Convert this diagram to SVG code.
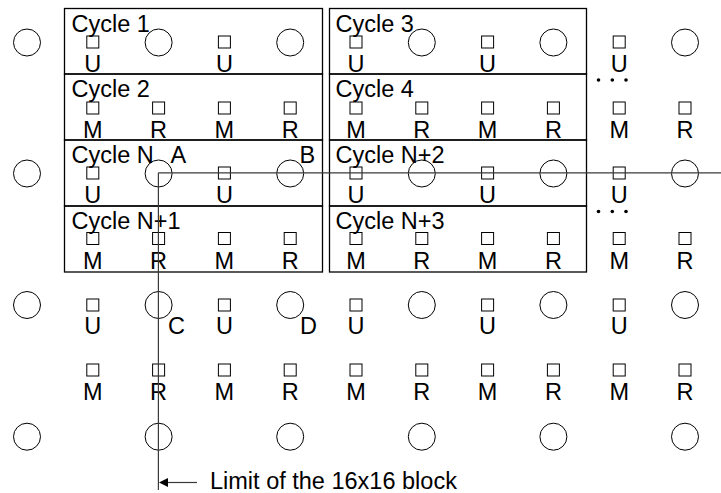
<svg xmlns="http://www.w3.org/2000/svg" width="721" height="493" viewBox="0 0 721 493">
<defs>
<style>
.bx{fill:none;stroke:#000;stroke-width:1.3}
.ci{fill:none;stroke:#000;stroke-width:1}
.sq{fill:none;stroke:#000;stroke-width:1}
.t{font-family:"Liberation Sans",Arial,sans-serif;font-size:23.5px;fill:#000}
.m{text-anchor:middle}
.ln{fill:none;stroke:#3a3a3a;stroke-width:1.2}
.dot{fill:#000}
</style>
<marker id="arr" markerWidth="10" markerHeight="10" refX="0" refY="5" orient="auto" markerUnits="userSpaceOnUse">
<path d="M0,5 L9,0.5 L9,9.5 Z" fill="#000"/>
</marker>
</defs>
<rect width="721" height="493" fill="#fff"/>

<!-- Cycle boxes -->
<g id="cycle1"><rect class="bx" x="64.5" y="8.5" width="258" height="65.5"/><text class="t" x="71.5" y="31.5">Cycle 1</text></g>
<g id="cycle2"><rect class="bx" x="64.5" y="74" width="258" height="66"/><text class="t" x="71.5" y="97">Cycle 2</text></g>
<g id="cycleN"><rect class="bx" x="64.5" y="140" width="258" height="66"/><text class="t" x="71.5" y="162.5">Cycle N</text></g>
<g id="cycleN1"><rect class="bx" x="64.5" y="206" width="258" height="66"/><text class="t" x="71.5" y="228.5">Cycle N+1</text></g>
<g id="cycle3"><rect class="bx" x="329.5" y="8.5" width="257" height="65.5"/><text class="t" x="335.5" y="31.5">Cycle 3</text></g>
<g id="cycle4"><rect class="bx" x="329.5" y="74" width="257" height="66"/><text class="t" x="335.5" y="97">Cycle 4</text></g>
<g id="cycleN2"><rect class="bx" x="329.5" y="140" width="257" height="66"/><text class="t" x="335.5" y="162.5">Cycle N+2</text></g>
<g id="cycleN3"><rect class="bx" x="329.5" y="206" width="257" height="66"/><text class="t" x="335.5" y="228.5">Cycle N+3</text></g>

<!-- Integer pixels (circles) -->
<g id="integer-pixels">
<circle class="ci" cx="27" cy="42.5" r="13.5"/><circle class="ci" cx="158.6" cy="42.5" r="13.5"/><circle class="ci" cx="290.2" cy="42.5" r="13.5"/><circle class="ci" cx="421.8" cy="42.5" r="13.5"/><circle class="ci" cx="553.4" cy="42.5" r="13.5"/><circle class="ci" cx="685" cy="42.5" r="13.5"/>
<circle class="ci" cx="27" cy="173.5" r="13.5"/><circle class="ci" cx="158.6" cy="173.5" r="13.5"/><circle class="ci" cx="290.2" cy="173.5" r="13.5"/><circle class="ci" cx="421.8" cy="173.5" r="13.5"/><circle class="ci" cx="553.4" cy="173.5" r="13.5"/><circle class="ci" cx="685" cy="173.5" r="13.5"/>
<circle class="ci" cx="27" cy="305" r="13.5"/><circle class="ci" cx="158.6" cy="305" r="13.5"/><circle class="ci" cx="290.2" cy="305" r="13.5"/><circle class="ci" cx="421.8" cy="305" r="13.5"/><circle class="ci" cx="553.4" cy="305" r="13.5"/><circle class="ci" cx="685" cy="305" r="13.5"/>
<circle class="ci" cx="27" cy="436.7" r="13.5"/><circle class="ci" cx="158.6" cy="436.7" r="13.5"/><circle class="ci" cx="290.2" cy="436.7" r="13.5"/><circle class="ci" cx="421.8" cy="436.7" r="13.5"/><circle class="ci" cx="553.4" cy="436.7" r="13.5"/><circle class="ci" cx="685" cy="436.7" r="13.5"/>
</g>

<!-- U half-pixels -->
<g id="u-pixels">
<rect class="sq" x="86.8" y="36" width="12" height="12"/><rect class="sq" x="218.4" y="36" width="12" height="12"/><rect class="sq" x="350" y="36" width="12" height="12"/><rect class="sq" x="481.6" y="36" width="12" height="12"/><rect class="sq" x="613.2" y="36" width="12" height="12"/>
<text class="t m" x="92.8" y="71.5">U</text><text class="t m" x="224.4" y="71.5">U</text><text class="t m" x="356" y="71.5">U</text><text class="t m" x="487.6" y="71.5">U</text><text class="t m" x="619.2" y="71.5">U</text>
<rect class="sq" x="86.8" y="167" width="12" height="12"/><rect class="sq" x="218.4" y="167" width="12" height="12"/><rect class="sq" x="350" y="167" width="12" height="12"/><rect class="sq" x="481.6" y="167" width="12" height="12"/><rect class="sq" x="613.2" y="167" width="12" height="12"/>
<text class="t m" x="92.8" y="202.5">U</text><text class="t m" x="224.4" y="202.5">U</text><text class="t m" x="356" y="202.5">U</text><text class="t m" x="487.6" y="202.5">U</text><text class="t m" x="619.2" y="202.5">U</text>
<rect class="sq" x="86.8" y="299" width="12" height="12"/><rect class="sq" x="218.4" y="299" width="12" height="12"/><rect class="sq" x="350" y="299" width="12" height="12"/><rect class="sq" x="481.6" y="299" width="12" height="12"/><rect class="sq" x="613.2" y="299" width="12" height="12"/>
<text class="t m" x="92.8" y="334">U</text><text class="t m" x="224.4" y="334">U</text><text class="t m" x="356" y="334">U</text><text class="t m" x="487.6" y="334">U</text><text class="t m" x="619.2" y="334">U</text>
</g>

<!-- M / R half-pixels -->
<g id="mr-pixels">
<rect class="sq" x="86.8" y="102" width="12" height="12"/><rect class="sq" x="152.6" y="102" width="12" height="12"/><rect class="sq" x="218.4" y="102" width="12" height="12"/><rect class="sq" x="284.2" y="102" width="12" height="12"/><rect class="sq" x="350" y="102" width="12" height="12"/><rect class="sq" x="415.8" y="102" width="12" height="12"/><rect class="sq" x="481.6" y="102" width="12" height="12"/><rect class="sq" x="547.4" y="102" width="12" height="12"/><rect class="sq" x="613.2" y="102" width="12" height="12"/><rect class="sq" x="679" y="102" width="12" height="12"/>
<text class="t m" x="92.8" y="138">M</text><text class="t m" x="158.6" y="138">R</text><text class="t m" x="224.4" y="138">M</text><text class="t m" x="290.2" y="138">R</text><text class="t m" x="356" y="138">M</text><text class="t m" x="421.8" y="138">R</text><text class="t m" x="487.6" y="138">M</text><text class="t m" x="553.4" y="138">R</text><text class="t m" x="619.2" y="138">M</text><text class="t m" x="685" y="138">R</text>
<rect class="sq" x="86.8" y="232.5" width="12" height="12"/><rect class="sq" x="152.6" y="232.5" width="12" height="12"/><rect class="sq" x="218.4" y="232.5" width="12" height="12"/><rect class="sq" x="284.2" y="232.5" width="12" height="12"/><rect class="sq" x="350" y="232.5" width="12" height="12"/><rect class="sq" x="415.8" y="232.5" width="12" height="12"/><rect class="sq" x="481.6" y="232.5" width="12" height="12"/><rect class="sq" x="547.4" y="232.5" width="12" height="12"/><rect class="sq" x="613.2" y="232.5" width="12" height="12"/><rect class="sq" x="679" y="232.5" width="12" height="12"/>
<text class="t m" x="92.8" y="269">M</text><text class="t m" x="158.6" y="269">R</text><text class="t m" x="224.4" y="269">M</text><text class="t m" x="290.2" y="269">R</text><text class="t m" x="356" y="269">M</text><text class="t m" x="421.8" y="269">R</text><text class="t m" x="487.6" y="269">M</text><text class="t m" x="553.4" y="269">R</text><text class="t m" x="619.2" y="269">M</text><text class="t m" x="685" y="269">R</text>
<rect class="sq" x="86.8" y="364" width="12" height="12"/><rect class="sq" x="152.6" y="364" width="12" height="12"/><rect class="sq" x="218.4" y="364" width="12" height="12"/><rect class="sq" x="284.2" y="364" width="12" height="12"/><rect class="sq" x="350" y="364" width="12" height="12"/><rect class="sq" x="415.8" y="364" width="12" height="12"/><rect class="sq" x="481.6" y="364" width="12" height="12"/><rect class="sq" x="547.4" y="364" width="12" height="12"/><rect class="sq" x="613.2" y="364" width="12" height="12"/><rect class="sq" x="679" y="364" width="12" height="12"/>
<text class="t m" x="92.8" y="400">M</text><text class="t m" x="158.6" y="400">R</text><text class="t m" x="224.4" y="400">M</text><text class="t m" x="290.2" y="400">R</text><text class="t m" x="356" y="400">M</text><text class="t m" x="421.8" y="400">R</text><text class="t m" x="487.6" y="400">M</text><text class="t m" x="553.4" y="400">R</text><text class="t m" x="619.2" y="400">M</text><text class="t m" x="685" y="400">R</text>
</g>

<!-- ellipsis dots -->
<g id="ellipsis">
<circle class="dot" cx="598.5" cy="80" r="1.8"/><circle class="dot" cx="612.3" cy="80" r="1.8"/><circle class="dot" cx="626" cy="80" r="1.8"/>
<circle class="dot" cx="598.5" cy="211.5" r="1.8"/><circle class="dot" cx="612.3" cy="211.5" r="1.8"/><circle class="dot" cx="626" cy="211.5" r="1.8"/>
</g>

<!-- corner labels -->
<g id="labels">
<text class="t" x="170.5" y="162.5">A</text>
<text class="t" x="299.5" y="162.5">B</text>
<text class="t" x="168" y="334">C</text>
<text class="t" x="300" y="334">D</text>
</g>

<!-- connectors -->
<g id="connectors">
<line class="ln" x1="158.4" y1="172.8" x2="721" y2="172.8"/>
<line class="ln" x1="158.4" y1="172.8" x2="158.4" y2="490"/>
<line class="ln" x1="197" y1="482.5" x2="167" y2="482.5"/>
<path d="M159,482.5 L168,478 L168,487 Z" fill="#000"/>
</g>

<g id="limit-label"><text class="t" x="210" y="489">Limit of the 16x16 block</text></g>
</svg>
